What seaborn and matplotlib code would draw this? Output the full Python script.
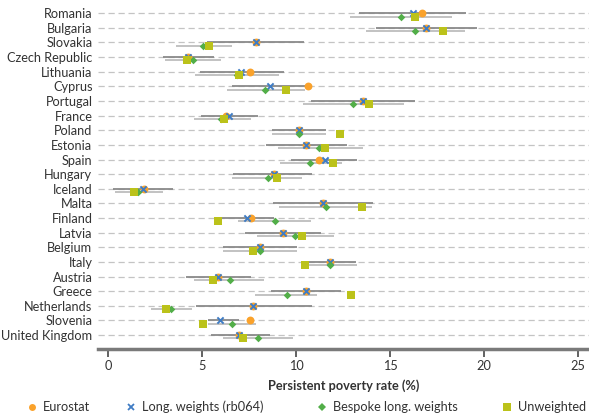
import matplotlib
matplotlib.use("Agg")
import matplotlib.pyplot as plt
from matplotlib.lines import Line2D
import seaborn as sns
import pandas as pd

countries = ["Romania", "Bulgaria", "Slovakia", "Czech Republic", "Lithuania",
             "Cyprus", "Portugal", "France", "Poland", "Estonia", "Spain",
             "Hungary", "Iceland", "Malta", "Finland", "Latvia", "Belgium",
             "Italy", "Austria", "Greece", "Netherlands", "Slovenia",
             "United Kingdom"]

eurostat = [16.7, 16.9, 7.85, 4.22, 7.57, 10.64, 13.56, 6.25, 10.14, 10.55,
            11.22, 8.81, 1.92, 11.44, 7.59, 9.31, 8.07, 11.79, 5.85, 10.55,
            7.71, 7.55, 6.97]
long_w = [16.2, 16.93, 7.85, 4.22, 7.09, 8.6, 13.56, 6.44, 10.14, 10.55,
          11.52, 8.81, 1.83, 11.44, 7.36, 9.31, 8.07, 11.79, 5.85, 10.55,
          7.71, 5.94, 6.97]
bespoke = [15.6, 16.35, 5.02, 4.49, 6.83, 8.37, 13.03, 5.99, 10.14, 11.22,
           10.73, 8.48, 1.6, 11.61, 8.9, 9.96, 8.1, 11.83, 6.47, 9.49,
           3.33, 6.56, 7.98]
unweighted = [16.33, 17.84, 5.37, 4.17, 6.95, 9.45, 13.88, 6.17, 12.36,
              11.52, 11.97, 8.99, 1.38, 13.53, 5.82, 10.32, 7.71, 10.5,
              5.59, 12.94, 3.05, 5.02, 7.15]

# confidence intervals: longitudinal weights (rb064) and bespoke weights
long_lo = [13.35, 14.28, 5.25, 2.89, 4.88, 6.6, 10.82, 4.93, 8.74, 8.42,
           9.72, 6.65, 0.23, 8.78, 5.9, 7.3, 6.12, 10.37, 4.13, 8.65,
           4.66, 5.3, 5.45]
long_hi = [19.05, 19.65, 10.4, 5.62, 9.34, 10.5, 16.31, 7.98, 11.6, 12.71,
           13.25, 10.85, 3.42, 14.1, 8.8, 11.35, 10.05, 13.21, 7.62, 12.41,
           10.85, 6.95, 8.6]
besp_lo = [12.86, 13.7, 3.6, 3.01, 4.63, 6.3, 10.37, 4.56, 8.72, 9.04,
           9.13, 6.61, 0.35, 9.1, 6.91, 7.93, 6.12, 10.45, 4.57, 7.8,
           2.27, 5.32, 6.12]
besp_hi = [18.3, 18.97, 6.56, 5.98, 9.1, 10.45, 15.74, 7.59, 11.58, 13.56,
           12.46, 10.32, 2.89, 14.06, 10.82, 12.02, 10.05, 13.22, 8.28, 11.13,
           4.47, 7.86, 9.84]

x_ticks = [0, 5, 10, 15, 20, 25]
series_names = ["Eurostat", "Long. weights (rb064)", "Bespoke long. weights",
                "Unweighted"]

sns.set_theme(style="white")
plt.rcParams["font.family"] = ["Lato", "DejaVu Sans"]

C_EURO = "#FAA22B"
C_LONG = "#3F7CC4"
C_BESP = "#52AE48"
C_UNW = "#BBC21A"
C_TEXT = "#333333"

W, H = 589, 415
fig = plt.figure(figsize=(W / 100, H / 100), dpi=100)
ax = fig.add_axes([0.1664, 0.159, 0.8336, 0.841])

pos = list(range(len(countries)))
off = 0.23
df = pd.DataFrame({
    "country": countries, "pos": pos,
    "pos_low": [p + off for p in pos],
    "eurostat": eurostat, "long": long_w, "bespoke": bespoke,
    "unweighted": unweighted,
})

# dashed row guides
for p in pos:
    ax.axhline(p, color="#c4c4c4", lw=0.9, ls=(0, (5, 3)), zorder=0)

# interval bars
ax.hlines(df["pos"], long_lo, long_hi, color="#8a8a8a", lw=1.3, zorder=1)
ax.hlines(df["pos_low"], besp_lo, besp_hi, color="#bdbdbd", lw=1.3, zorder=1)

sns.scatterplot(data=df, x="eurostat", y="pos", marker="o", s=32,
                color=C_EURO, linewidth=0, ax=ax, zorder=3, legend=False)
sns.scatterplot(data=df, x="long", y="pos", marker="x", s=20,
                color=C_LONG, linewidth=1.4, ax=ax, zorder=4, legend=False)
sns.scatterplot(data=df, x="bespoke", y="pos_low", marker="D", s=15,
                color=C_BESP, linewidth=0, ax=ax, zorder=5, legend=False)
sns.scatterplot(data=df, x="unweighted", y="pos_low", marker="s", s=32,
                color=C_UNW, linewidth=0, ax=ax, zorder=6, legend=False)

ax.set_xlim(-0.55, 25.6)
ax.set_ylim(len(countries) - 1 + 0.95, -0.9)
ax.set_yticks(pos)
ax.set_yticklabels(countries, fontsize=9.2, color=C_TEXT)
ax.set_xticks(x_ticks)
ax.set_xticklabels([str(t) for t in x_ticks], fontsize=9.2, color=C_TEXT)
ax.tick_params(axis="y", length=0, pad=4)
ax.tick_params(axis="x", direction="out", length=6, width=1.3,
               color="#555555", pad=2, bottom=True)
for side in ["top", "right", "left"]:
    ax.spines[side].set_visible(False)
ax.spines["bottom"].set_color("#7a7a7a")
ax.spines["bottom"].set_linewidth(2.5)
ax.set_xlabel("Persistent poverty rate (%)", fontsize=9.2, fontweight="bold",
              color=C_TEXT, labelpad=5)
ax.set_ylabel("")

handles = [
    Line2D([], [], ls="none", marker="o", ms=5, color=C_EURO, mew=0),
    Line2D([], [], ls="none", marker="x", ms=4.5, color=C_LONG, mew=1.3),
    Line2D([], [], ls="none", marker="D", ms=3.6, color=C_BESP, mew=0),
    Line2D([], [], ls="none", marker="s", ms=6, color=C_UNW, mew=0),
]
# one legend entry per key, placed along the bottom edge
legend_fs = 9.2
hl = 0.8
half_handle = hl * legend_fs * 100 / 72 / 2
for h, name, mx in zip(handles, series_names, [32, 131, 322, 507]):
    leg = fig.legend([h], [name], loc="center left",
                     bbox_to_anchor=((mx - half_handle) / W, 8 / H),
                     frameon=False, fontsize=legend_fs, handletextpad=0.45,
                     handlelength=hl, labelcolor=C_TEXT, borderpad=0,
                     borderaxespad=0)

fig.savefig("out.png", dpi=100)
